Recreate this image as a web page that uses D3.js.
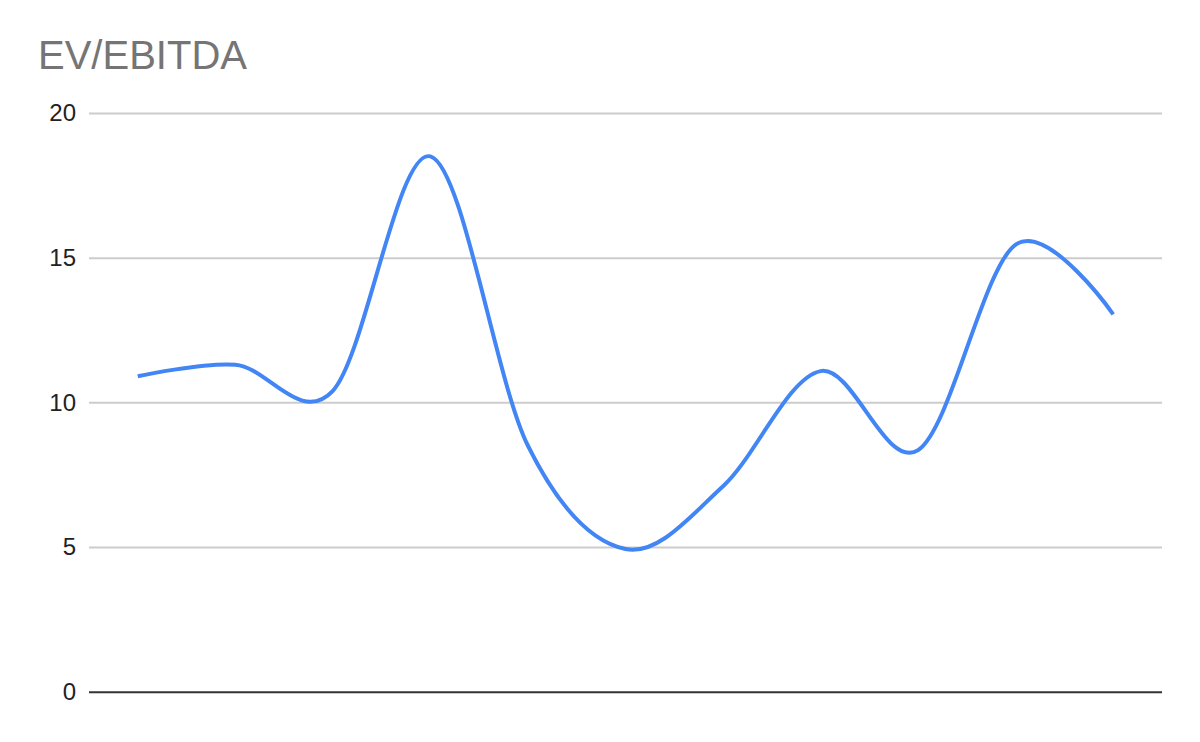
<!DOCTYPE html>
<html>
<head>
<meta charset="utf-8">
<script src="https://cdn.jsdelivr.net/npm/d3@7"></script>
<style>
  body { margin: 0; background: #fff; }
  svg { display: block; font-family: "Liberation Sans", Arial, sans-serif; }
</style>
</head>
<body>
<div id="chart"></div>
<script>
// data (x labels are not shown in the chart)
const periods = ['P1', 'P2', 'P3', 'P4', 'P5', 'P6', 'P7', 'P8', 'P9', 'P10', 'P11'];
const evEbitda = [10.9, 11.3, 10.4, 18.5, 8.5, 4.93, 7.1, 11.08, 8.35, 15.45, 13.04];
const yTicks = [0, 5, 10, 15, 20];

const width = 1200, height = 742;
const margin = { top: 113, right: 38, bottom: 50, left: 89 };

const svg = d3.select('#chart').append('svg')
    .attr('width', width)
    .attr('height', height);

const x = d3.scalePoint()
    .domain(periods)
    .range([margin.left, width - margin.right])
    .padding(0.5);

const y = d3.scaleLinear()
    .domain([0, 20])
    .range([height - margin.bottom - 0.3, margin.top]);

// title
svg.append('text')
    .attr('x', 38)
    .attr('y', 69)
    .attr('fill', '#757575')
    .style('font-size', '40px')
    .text('EV/EBITDA');

// gridlines + labels
const yAxis = svg.append('g')
    .attr('transform', `translate(${margin.left},0)`)
    .call(d3.axisLeft(y)
        .tickValues(yTicks)
        .tickSize(-(width - margin.left - margin.right))
        .tickPadding(13));

yAxis.select('.domain').remove();
yAxis.selectAll('.tick line')
    .attr('stroke', d => d === 0 ? '#333' : '#ccc')
    .attr('stroke-width', 2);
yAxis.selectAll('.tick text')
    .attr('fill', '#222')
    .style('font-size', '24px')
    .attr('font-family', '"Liberation Sans", Arial, sans-serif');

// smoothed line (uniform catmull-rom overshoots a bit, like the reference)
const line = d3.line()
    .x((d, i) => x(periods[i]))
    .y(d => y(d))
    .curve(d3.curveCardinal.tension(0));

svg.append('path')
    .datum(evEbitda)
    .attr('fill', 'none')
    .attr('stroke', '#4285f4')
    .attr('stroke-width', 4)
    .attr('stroke-linejoin', 'round')
    .attr('d', line);
</script>
</body>
</html>
